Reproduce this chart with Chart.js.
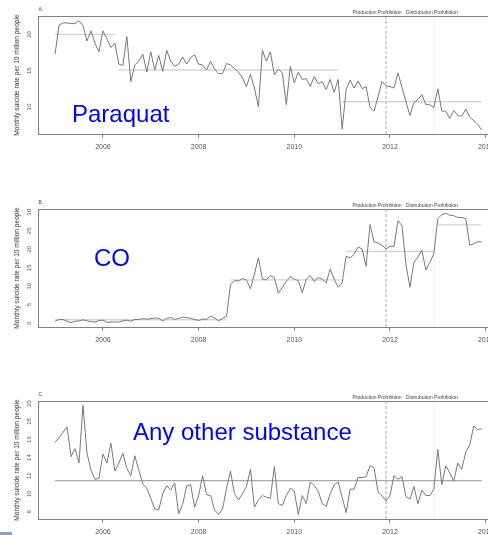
<!DOCTYPE html>
<html>
<head>
<meta charset="utf-8">
<script src="https://cdn.jsdelivr.net/npm/chart.js@4.4.1/dist/chart.umd.min.js"></script>
<style>
  html, body { margin: 0; padding: 0; background: #fff; overflow: hidden; }
  body { width: 488px; height: 535px; position: relative; }
  canvas { position: absolute; left: 0; }
  .corner { position: absolute; left: 0; top: 532px; width: 12px; height: 3px; background: #8aa2b4; }
</style>
</head>
<body>
<canvas id="chartA" width="520" height="170" style="top:0px"></canvas>
<canvas id="chartB" width="520" height="170" style="top:193px"></canvas>
<canvas id="chartC" width="520" height="170" style="top:385px"></canvas>
<div class="corner"></div>
<script>
// monthly series, Jan 2005 .. Dec 2013
const startYear = 2005;

const paraquat = [
    17.3, 21.3, 21.6, 21.6, 21.5, 21.5, 21.9, 21.2, 19.1, 20.5, 18.8, 17.6,
    20.5, 19.4, 18.2, 18.8, 15.9, 15.7, 19.7, 13.5, 15.8, 16.3, 17.3, 14.8,
    17.6, 15.1, 17.1, 14.9, 17.8, 16.3, 15.6, 15.9, 16.9, 15.9, 16.8, 17.2,
    15.9, 15.8, 15.1, 16.3, 15.2, 14.6, 14.6, 16.0, 15.8, 15.3, 14.8, 14.0,
    12.8, 14.5, 12.6, 10.0, 17.8, 16.3, 17.6, 14.4, 15.2, 14.7, 10.3, 15.6,
    13.3, 14.8, 13.8, 13.9, 12.8, 14.2, 13.2, 13.5, 12.4, 13.8, 12.0, 13.8,
    6.9, 12.4, 13.7, 12.6, 13.6, 12.5, 12.8, 9.9, 9.4, 11.4, 13.5, 12.9,
    12.8, 12.6, 14.7, 12.7, 10.7, 8.8, 10.6, 11.0, 11.7, 10.3, 10.3, 9.9,
    12.5, 9.4, 9.4, 8.4, 9.5, 8.8, 8.7, 9.7, 8.6, 8.1, 7.6, 6.8
];
const carbonMonoxide = [
    0.5, 1.0, 1.0, 0.5, 0.1, 0.5, 0.6, 0.9, 0.6, 0.4, 0.3, 0.7,
    0.8, 0.2, 0.3, 0.3, 0.3, 0.6, 0.8, 0.5, 1.0, 1.0, 1.2, 1.1,
    1.2, 1.4, 1.3, 0.6, 1.3, 1.5, 1.0, 1.3, 1.6, 1.5, 1.3, 1.0,
    0.7, 1.1, 1.0, 1.9, 1.4, 0.6, 1.3, 1.8, 10.5, 11.5, 11.4, 12.1,
    11.7, 9.3, 13.3, 17.7, 11.9, 11.7, 12.9, 12.3, 8.1, 9.7, 11.3, 12.6,
    11.9, 11.5, 8.2, 11.9, 12.9, 11.3, 12.3, 11.9, 10.9, 14.6, 11.9, 9.7,
    10.9, 18.1, 17.7, 18.6, 20.6, 20.1, 15.4, 26.7, 22.0, 21.7, 21.1, 20.1,
    20.8, 20.8, 27.7, 26.4, 16.0, 9.7, 16.5, 17.9, 19.7, 14.4, 16.5, 18.8,
    28.3, 29.4, 29.7, 29.2, 29.1, 28.6, 28.6, 28.3, 21.1, 21.5, 22.0, 22.0
];
const otherSubstance = [
    15.7, 16.2, 16.8, 17.4, 14.1, 15.0, 13.4, 19.8, 14.5, 12.6, 11.6, 11.7,
    14.4, 13.4, 15.6, 12.5, 13.4, 14.5, 12.8, 12.0, 14.2, 12.6, 11.1, 10.6,
    9.5, 8.3, 8.2, 10.0, 10.9, 10.4, 11.2, 7.8, 8.8, 10.9, 11.0, 8.5,
    9.8, 12.0, 9.9, 9.8, 8.2, 7.7, 8.3, 10.6, 12.5, 10.0, 9.3, 10.0,
    10.8, 12.7, 8.5, 9.3, 9.8, 9.6, 9.5, 13.0, 8.9, 8.7, 9.8, 10.6,
    10.3, 7.7, 9.8, 8.9, 11.3, 10.9, 10.3, 8.9, 8.6, 10.0, 11.0, 11.3,
    9.6, 7.9, 10.5, 10.5, 11.8, 11.8, 11.9, 13.1, 12.9, 10.2, 9.8, 9.2,
    9.8, 12.0, 11.6, 11.9, 9.7, 9.4, 10.8, 8.9, 10.4, 9.8, 9.8, 10.5,
    14.9, 11.0, 13.1, 12.3, 11.4, 13.4, 12.7, 14.6, 15.4, 17.5, 17.1, 17.2
];

// segment means: [first month index, last month index]
const paraquatSegments = [[0, 15], [16, 71], [72, 107]];
const paraquatMeans = [20.0, 15.1, 10.7];
const coSegments = [[0, 43], [44, 72], [73, 95], [96, 107]];
const coMeans = [0.9, 11.7, 19.4, 26.6];
const otherSegments = [[0, 107]];
const otherMeans = [11.45];

const xTicks = [2006, 2008, 2010, 2012, 2014];
const paraquatTicks = [10, 15, 20];
const coTicks = [0, 5, 10, 15, 20, 25, 30];
const otherTicks = [8, 10, 12, 14, 16, 18, 20];

const productionBan = 2011 + 11 / 12;
const distributionBan = 2012 + 11 / 12;

const FONT = '"Liberation Sans", Arial, sans-serif';
Chart.defaults.font.family = FONT;

function monthX(i) {
    return startYear + i / 12;
}

const panelDecor = {
    id: 'panelDecor',
    afterDraw(chart, args, opts) {
        const { ctx, chartArea: a, scales: { x } } = chart;
        ctx.save();
        ctx.strokeStyle = '#808080';
        ctx.lineWidth = 1;
        ctx.strokeRect(a.left + 0.5, a.top + 0.5, a.right - a.left, a.bottom - a.top);

        ctx.fillStyle = '#444';
        ctx.font = '5px ' + FONT;
        ctx.textBaseline = 'middle';
        ctx.textAlign = 'left';
        ctx.fillText(opts.tag, a.left + 0.5, a.top - 6);
        ctx.textAlign = 'center';
        ctx.fillText('Production Prohibition', x.getPixelForValue(productionBan) - 9, a.top - 3.5);
        ctx.fillText('Distrubution Prohibition', x.getPixelForValue(distributionBan) - 2, a.top - 3.5);

        ctx.fillStyle = '#0000ff';
        ctx.font = '24px ' + FONT;
        ctx.textAlign = 'left';
        ctx.textBaseline = 'alphabetic';
        ctx.fillText(opts.name, opts.nameX, opts.nameY);
        ctx.restore();
    }
};

function makePanel(elId, cfg) {
    const ctx = document.getElementById(elId).getContext('2d');
    const datasets = [{
        data: cfg.values.map((v, i) => ({ x: monthX(i), y: v })),
        borderColor: '#787878', borderWidth: 1, pointRadius: 0, tension: 0
    }];
    cfg.segments.forEach((seg, k) => {
        datasets.push({
            data: [{ x: monthX(seg[0]), y: cfg.means[k] }, { x: monthX(seg[1]), y: cfg.means[k] }],
            borderColor: cfg.meanColor, borderWidth: 1.4, pointRadius: 0
        });
    });
    datasets.push({
        data: [{ x: productionBan, y: cfg.yMin }, { x: productionBan, y: cfg.yMax }],
        borderColor: '#a8a8a8', borderWidth: 1, borderDash: [3, 2], pointRadius: 0
    });
    datasets.push({
        data: [{ x: distributionBan, y: cfg.yMin }, { x: distributionBan, y: cfg.yMax }],
        borderColor: '#dcdcdc', borderWidth: 1, borderDash: [1, 1], pointRadius: 0
    });

    return new Chart(ctx, {
        type: 'line',
        data: { datasets },
        options: {
            responsive: false,
            animation: false,
            events: [],
            layout: { padding: { top: 16, right: 21.4, left: 0, bottom: 0 } },
            scales: {
                x: {
                    type: 'linear',
                    min: 2004.643,
                    max: 2014.27,
                    afterBuildTicks: s => { s.ticks = xTicks.map(v => ({ value: v })); },
                    afterFit: s => { s.height = 36; },
                    grid: { display: true, drawOnChartArea: false, drawTicks: true, tickLength: 4, color: '#8c8c8c' },
                    border: { display: false },
                    ticks: {
                        color: '#555', font: { size: 7 }, padding: 5,
                        minRotation: 0, maxRotation: 0,
                        callback: v => String(v)
                    }
                },
                y: {
                    min: cfg.yMin,
                    max: cfg.yMax,
                    afterBuildTicks: s => { s.ticks = cfg.ticks.map(v => ({ value: v })); },
                    afterFit: s => { s.width = 38; },
                    grid: { display: false },
                    border: { display: false },
                    ticks: {
                        color: '#555', font: { size: 6 }, padding: -2.5,
                        minRotation: 90, maxRotation: 90, crossAlign: 'center',
                        callback: v => String(v)
                    },
                    title: {
                        display: true,
                        text: 'Monthly suicide rate per 10 million people',
                        color: '#333', font: { size: 6.6 },
                        padding: { top: 13, bottom: 0 }
                    }
                }
            },
            plugins: {
                legend: { display: false },
                tooltip: { enabled: false },
                panelDecor: { tag: cfg.tag, name: cfg.name, nameX: cfg.nameX, nameY: cfg.nameY }
            }
        },
        plugins: [panelDecor]
    });
}

makePanel('chartA', {
    values: paraquat, segments: paraquatSegments, means: paraquatMeans, meanColor: '#d6d6d6',
    yMin: 6.25, yMax: 22.55, ticks: paraquatTicks,
    tag: 'A.', name: 'Paraquat', nameX: 72, nameY: 122
});
makePanel('chartB', {
    values: carbonMonoxide, segments: coSegments, means: coMeans, meanColor: '#d6d6d6',
    yMin: -1.05, yMax: 30.9, ticks: coTicks,
    tag: 'B.', name: 'CO', nameX: 94, nameY: 73
});
makePanel('chartC', {
    values: otherSubstance, segments: otherSegments, means: otherMeans, meanColor: '#a8a8a8',
    yMin: 7.2, yMax: 20.27, ticks: otherTicks,
    tag: 'C.', name: 'Any other substance', nameX: 133, nameY: 55
});
</script>
</body>
</html>
